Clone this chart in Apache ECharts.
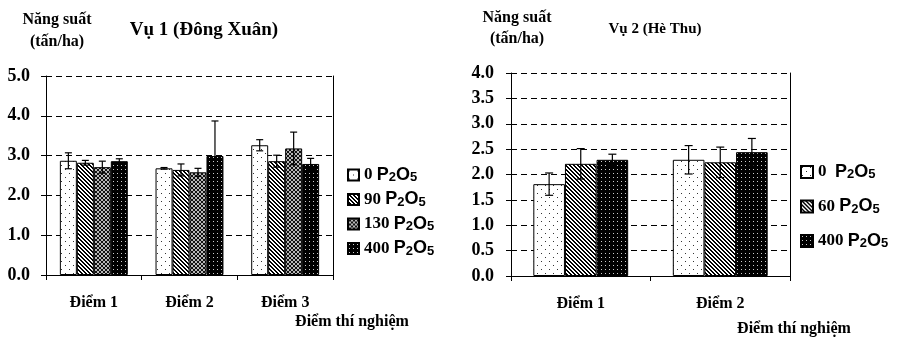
<!DOCTYPE html>
<html>
<head>
<meta charset="utf-8">
<script src="https://cdn.jsdelivr.net/npm/echarts@6/dist/echarts.min.js"></script>
<style>html,body{margin:0;padding:0;background:#fff}#c{width:901px;height:337px}</style>
</head>
<body>
<div id="c"></div>
<script>
// ---------- data ----------
const cats1 = ['Điểm 1', 'Điểm 2', 'Điểm 3'];
const names1 = ['0 P2O5', '90 P2O5', '130 P2O5', '400 P2O5'];
const vals1_0   = [2.87, 2.68, 3.26];
const vals1_90  = [2.82, 2.64, 2.86];
const vals1_130 = [2.71, 2.58, 3.18];
const vals1_400 = [2.86, 2.99, 2.79];
const err1_0   = [0.20, 0.02, 0.14];
const err1_90  = [0.06, 0.15, 0.15];
const err1_130 = [0.15, 0.10, 0.41];
const err1_400 = [0.06, 0.88, 0.14];
const yTicks1 = [0, 1, 2, 3, 4, 5];

const cats2 = ['Điểm 1', 'Điểm 2'];
const names2 = ['0\u00a0\u00a0P2O5', '60\u00a0P2O5', '400\u00a0P2O5'];
const vals2_0   = [1.81, 2.29];
const vals2_60  = [2.21, 2.24];
const vals2_400 = [2.29, 2.44];
const err2_0   = [0.22, 0.28];
const err2_60  = [0.30, 0.30];
const err2_400 = [0.11, 0.27];
const yTicks2 = [0, 0.5, 1, 1.5, 2, 2.5, 3, 3.5, 4];

// ---------- patterns ----------
function pat(w, h, draw) {
  const c = document.createElement('canvas'); c.width = w; c.height = h;
  const g = c.getContext('2d'); draw(g, w, h); return c;
}
const pDots = pat(8, 8, g => { g.fillStyle = '#fff'; g.fillRect(0,0,8,8); g.fillStyle = '#333'; g.fillRect(1,1,1,1); g.fillRect(5,5,1,1); });
const pHatch = pat(4, 4, g => { g.fillStyle = '#fff'; g.fillRect(0,0,4,4); g.fillStyle = '#000';
  for (let i = 0; i < 4; i++) { g.fillRect(i, i, 1, 1); g.fillRect((i + 1) % 4, i, 1, 1); } });
const pCross = pat(4, 4, g => { g.fillStyle = '#b8b8b8'; g.fillRect(0,0,4,4); g.fillStyle = '#111';
  for (let i = 0; i < 4; i++) { g.fillRect(i, i, 1, 1); g.fillRect(3 - i, i, 1, 1); } });
const pBlack = pat(4, 4, g => { g.fillStyle = '#000'; g.fillRect(0,0,4,4); g.fillStyle = '#ccc'; g.fillRect(1,1,1,1); });
const fills1 = [pDots, pHatch, pCross, pBlack];
const fills2 = [pDots, pHatch, pBlack];

const SERIF = "'Liberation Serif', 'Times New Roman', serif";
const SANS = "'Liberation Sans', Arial, sans-serif";

function barSeries(name, data, fill, xi) {
  return { type: 'bar', name: name, data: data, xAxisIndex: xi * 2, yAxisIndex: xi * 2,
    barGap: '0%', barCategoryGap: xi === 0 ? '29%' : '32%',
    itemStyle: { color: { image: fill, repeat: 'repeat' }, borderColor: '#000', borderWidth: 1 },
    emphasis: { disabled: true }, z: 3 };
}
function errSeries(vals, errs, idx, n, gap, cap, xi) {
  return { type: 'custom', xAxisIndex: xi * 2, yAxisIndex: xi * 2, z: 5, silent: true,
    data: vals.map((v, i) => [i, v, errs[i]]),
    renderItem: function (params, api) {
      const x = api.value(0), y = api.value(1), e = api.value(2);
      const c = api.coord([x, y]);
      const hi = api.coord([x, y + e]), lo = api.coord([x, y - e]);
      const band = api.size([1, 0])[0];
      const bw = band * (1 - gap) / n;
      const cx = c[0] + (idx - (n - 1) / 2) * bw;
      const st = { stroke: '#000', lineWidth: 1.2 };
      return { type: 'group', children: [
        { type: 'line', shape: { x1: cx, y1: hi[1], x2: cx, y2: lo[1] }, style: st },
        { type: 'line', shape: { x1: cx - cap, y1: hi[1], x2: cx + cap, y2: hi[1] }, style: st },
        { type: 'line', shape: { x1: cx - cap, y1: lo[1], x2: cx + cap, y2: lo[1] }, style: st }
      ]};
    }
  };
}

const legendRich = {
  n: { fontFamily: SERIF, fontWeight: 'bold', fontSize: 17, color: '#000', lineHeight: 18 },
  p: { fontFamily: SANS, fontWeight: 'bold', fontSize: 18, color: '#000', lineHeight: 18 },
  s: { fontFamily: SANS, fontWeight: 'bold', fontSize: 13, color: '#000', lineHeight: 13, verticalAlign: 'bottom' }
};
function legendFmt(name) {
  const m = name.match(/^(\d+)(\s+)P2O5/);
  return '{n|' + m[1] + m[2] + '}{p|P}{s|2}{p|O}{s|5}';
}

const series = [];
const v1 = [vals1_0, vals1_90, vals1_130, vals1_400];
const e1 = [err1_0, err1_90, err1_130, err1_400];
names1.forEach((nm, i) => series.push(barSeries(nm, v1[i], fills1[i], 0)));
names1.forEach((nm, i) => series.push(errSeries(v1[i], e1[i], i, 4, 0.29, 3.5, 0)));
const v2 = [vals2_0, vals2_60, vals2_400];
const e2 = [err2_0, err2_60, err2_400];
names2.forEach((nm, i) => series.push(barSeries(nm, v2[i], fills2[i], 1)));
names2.forEach((nm, i) => series.push(errSeries(v2[i], e2[i], i, 3, 0.32, 4, 1)));

function txt(text, x, y, size, weight, lh) {
  return { type: 'text', x: x, y: y, z: 10, style: { text: text, textAlign: 'center', textVerticalAlign: 'top',
    fontFamily: SERIF, fontSize: size, fontWeight: weight, fill: '#000', lineHeight: lh || size + 2 } };
}

function mainX(i) {
  return { type: 'category', gridIndex: i, data: i === 0 ? cats1 : cats2, position: 'bottom',
    axisLine: { lineStyle: { color: '#000', width: 1 } },
    axisTick: { show: true, length: 5, lineStyle: { color: '#000' } },
    axisLabel: { margin: 20, color: '#000', fontFamily: SERIF, fontWeight: 'bold', fontSize: 16 },
    splitLine: { show: false } };
}
function frameX(i) {
  return { type: 'category', gridIndex: i, data: i === 0 ? cats1 : cats2, position: 'top',
    axisLine: { show: true, lineStyle: { color: '#000', width: 1 } },
    axisTick: { show: false }, axisLabel: { show: false }, splitLine: { show: false } };
}
function mainY(i) {
  return { type: 'value', gridIndex: i, min: 0, max: i === 0 ? 5 : 4, interval: i === 0 ? 1 : 0.5, position: 'left',
    axisLine: { show: true, lineStyle: { color: '#000', width: 1 } },
    axisTick: { show: true, length: 5, lineStyle: { color: '#000' } },
    axisLabel: { margin: i === 0 ? 16 : 17, color: '#000', fontFamily: SERIF, fontWeight: 'bold', fontSize: 18,
      formatter: v => v.toFixed(1) },
    splitLine: { show: true, lineStyle: { color: '#000', type: [6, 4], width: 1 } } };
}
function frameY(i) {
  return { type: 'value', gridIndex: i, min: 0, max: i === 0 ? 5 : 4, interval: i === 0 ? 1 : 0.5, position: 'right',
    axisLine: { show: true, lineStyle: { color: '#000', width: 1 } },
    axisTick: { show: false }, axisLabel: { show: false }, splitLine: { show: false } };
}

const chart = echarts.init(document.getElementById('c'), null, { renderer: 'canvas' });
chart.setOption({
  animation: false,
  backgroundColor: '#fff',
  grid: [
    { left: 46, top: 76, width: 287, height: 199 },
    { left: 511, top: 73, width: 279, height: 203 }
  ],
  xAxis: [mainX(0), frameX(0), mainX(1), frameX(1)],
  yAxis: [mainY(0), frameY(0), mainY(1), frameY(1)],
  legend: [
    { data: names1, orient: 'vertical', left: 347, top: 166, padding: 0, itemWidth: 11, itemHeight: 11, itemGap: 6.5, icon: 'rect',
      selectedMode: false, formatter: legendFmt, textStyle: { rich: legendRich } },
    { data: names2, orient: 'vertical', left: 800, top: 163, padding: 0, itemWidth: 12, itemHeight: 12, itemGap: 16.5, icon: 'rect',
      selectedMode: false, formatter: legendFmt, textStyle: { rich: legendRich } }
  ],
  graphic: [
    txt('Năng suất\n(tấn/ha)', 57, 9, 16, 'bold', 22),
    txt('Vụ 1 (Đông Xuân)', 204, 20, 19, 'bold'),
    txt('Điểm thí nghiệm', 352, 313, 16, 'bold'),
    txt('Năng suất\n(tấn/ha)', 517, 7, 16, 'bold', 21),
    txt('Vụ 2 (Hè Thu)', 655, 21, 15, 'bold'),
    txt('Điểm thí nghiệm', 794, 320, 16, 'bold')
  ],
  series: series
});
</script>
</body>
</html>
